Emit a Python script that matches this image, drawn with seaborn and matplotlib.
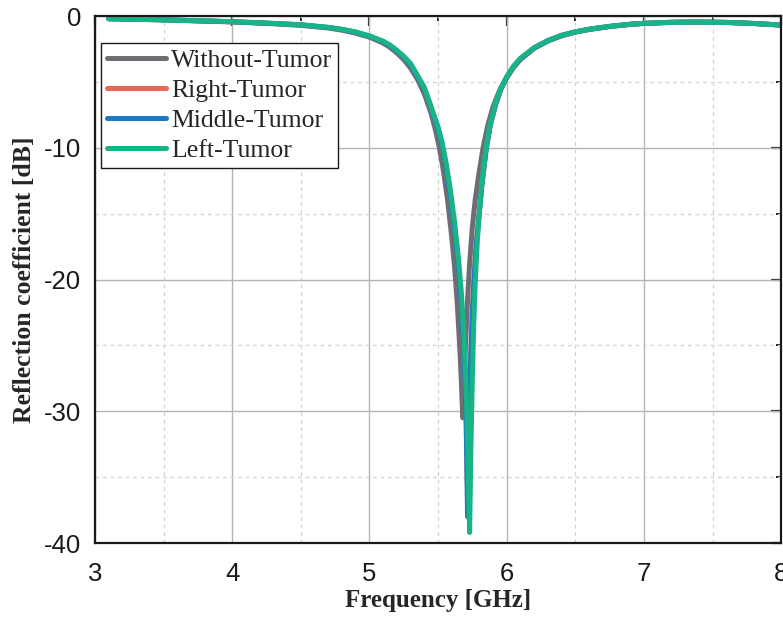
import numpy as np
import pandas as pd
import matplotlib
matplotlib.use("Agg")
import matplotlib.pyplot as plt
import seaborn as sns
from matplotlib.ticker import MultipleLocator, FuncFormatter

# ---- data ----
f_without = [3.1, 3.5, 4.0, 4.3, 4.5, 4.7, 4.8, 4.9, 5.0, 5.05, 5.1, 5.15, 5.2, 5.25, 5.3, 5.35,
             5.4, 5.45, 5.48, 5.51, 5.54, 5.57, 5.6, 5.62, 5.64, 5.66, 5.67, 5.68, 5.69, 5.70,
             5.715, 5.73, 5.75, 5.77, 5.80, 5.83, 5.86, 5.9, 5.95, 6.0, 6.05, 6.1, 6.2, 6.3, 6.4,
             6.5, 6.6, 6.75, 6.9, 7.0, 7.2, 7.4, 7.6, 7.8, 8.0]
s_without = [-0.2, -0.29, -0.44, -0.58, -0.7, -0.9, -1.07, -1.3, -1.6, -1.82, -2.05, -2.38, -2.8,
             -3.3, -3.95, -4.8, -5.9, -7.4, -8.6, -10.0, -11.8, -14.0, -16.8, -19.0, -21.8, -25.5,
             -27.8, -30.5, -28.0, -25.0, -21.5, -18.8, -16.0, -14.0, -11.8, -9.9, -8.4, -6.9,
             -5.6, -4.7, -3.9, -3.3, -2.45, -1.9, -1.5, -1.22, -1.02, -0.8, -0.63, -0.56, -0.48,
             -0.45, -0.48, -0.56, -0.68]

f_right = [3.1, 3.5, 4.0, 4.3, 4.5, 4.7, 4.8, 4.9, 5.0, 5.05, 5.1, 5.15, 5.2, 5.25, 5.3, 5.35,
           5.4, 5.45, 5.5, 5.53, 5.56, 5.59, 5.62, 5.65, 5.67, 5.685, 5.695, 5.705, 5.715, 5.725,
           5.735, 5.75, 5.765, 5.78, 5.8, 5.82, 5.85, 5.88, 5.92, 5.96, 6.0, 6.05, 6.1, 6.2, 6.3,
           6.4, 6.5, 6.6, 6.75, 6.9, 7.0, 7.2, 7.4, 7.6, 7.8, 8.0]
s_right = [-0.2, -0.28, -0.43, -0.56, -0.67, -0.87, -1.02, -1.23, -1.53, -1.74, -1.95, -2.26,
           -2.66, -3.12, -3.7, -4.6, -5.5, -7.0, -8.6, -9.9, -11.6, -13.7, -16.2, -19.3, -22.0,
           -25.0, -27.5, -30.5, -36.0, -31.0, -26.5, -22.3, -19.4, -17.1, -14.9, -12.7, -10.1,
           -8.3, -6.7, -5.5, -4.65, -3.85, -3.25, -2.42, -1.87, -1.47, -1.2, -1.0, -0.78, -0.62,
           -0.55, -0.47, -0.45, -0.48, -0.56, -0.68]

f_middle = [3.1, 3.5, 4.0, 4.3, 4.5, 4.7, 4.8, 4.9, 5.0, 5.05, 5.1, 5.15, 5.2, 5.25, 5.3, 5.35,
            5.4, 5.45, 5.5, 5.53, 5.56, 5.59, 5.62, 5.65, 5.67, 5.685, 5.695, 5.705, 5.715, 5.725,
            5.735, 5.75, 5.765, 5.78, 5.8, 5.82, 5.85, 5.88, 5.92, 5.96, 6.0, 6.05, 6.1, 6.2, 6.3,
            6.4, 6.5, 6.6, 6.75, 6.9, 7.0, 7.2, 7.4, 7.6, 7.8, 8.0]
s_middle = [-0.2, -0.28, -0.43, -0.56, -0.67, -0.87, -1.02, -1.23, -1.53, -1.74, -1.95, -2.26,
            -2.66, -3.12, -3.7, -4.6, -5.5, -7.0, -8.6, -9.9, -11.6, -13.7, -16.2, -19.3, -22.0,
            -25.0, -27.5, -31.0, -38.0, -32.0, -27.0, -22.5, -19.5, -17.2, -15.0, -12.8, -10.2,
            -8.3, -6.7, -5.5, -4.65, -3.85, -3.25, -2.42, -1.87, -1.47, -1.2, -1.0, -0.78, -0.62,
            -0.55, -0.47, -0.45, -0.48, -0.56, -0.68]

f_left = [3.1, 3.5, 4.0, 4.3, 4.5, 4.7, 4.8, 4.9, 5.0, 5.05, 5.1, 5.15, 5.2, 5.25, 5.3, 5.35,
          5.4, 5.45, 5.5, 5.53, 5.56, 5.59, 5.62, 5.65, 5.67, 5.69, 5.70, 5.71, 5.72, 5.73, 5.74,
          5.75, 5.76, 5.77, 5.785, 5.8, 5.82, 5.85, 5.88, 5.92, 5.96, 6.0, 6.05, 6.1, 6.2, 6.3,
          6.4, 6.5, 6.6, 6.75, 6.9, 7.0, 7.2, 7.4, 7.6, 7.8, 8.0]
s_left = [-0.2, -0.28, -0.42, -0.55, -0.65, -0.85, -1.0, -1.2, -1.5, -1.7, -1.9, -2.2, -2.6,
          -3.05, -3.6, -4.5, -5.4, -6.9, -8.4, -9.6, -11.2, -13.2, -15.6, -18.5, -21.0, -24.5,
          -27.0, -30.0, -34.5, -39.2, -32.5, -27.5, -23.5, -20.5, -17.3, -15.0, -12.6, -10.0,
          -8.2, -6.6, -5.4, -4.6, -3.8, -3.2, -2.4, -1.85, -1.45, -1.2, -1.0, -0.78, -0.62,
          -0.55, -0.47, -0.45, -0.48, -0.56, -0.68]

series_names = ["Without-Tumor", "Right-Tumor", "Middle-Tumor", "Left-Tumor"]
series_colors = ["#6e6e72", "#e8665c", "#1a7bc2", "#18b488"]

frames = []
for name, fx, sy in zip(series_names,
                        [f_without, f_right, f_middle, f_left],
                        [s_without, s_right, s_middle, s_left]):
    frames.append(pd.DataFrame({"Frequency": fx, "S11": sy, "Case": name}))
df = pd.concat(frames, ignore_index=True)

# ---- plot ----
sns.set_style("white")
plt.rcParams["font.family"] = ["Liberation Sans", "DejaVu Sans"]
serif = ["Liberation Serif", "DejaVu Serif"]

fig = plt.figure(figsize=(7.83, 6.17), dpi=100)
ax = fig.add_axes([0.1213, 0.1199, 0.8763, 0.854])

sns.lineplot(data=df, x="Frequency", y="S11", hue="Case", hue_order=series_names,
             palette=series_colors, linewidth=3.6, sort=False, estimator=None, ax=ax,
             solid_capstyle="round", solid_joinstyle="round")

ax.set_xlim(3, 8)
ax.set_ylim(-40, 0)
ax.xaxis.set_major_locator(MultipleLocator(1))
ax.xaxis.set_minor_locator(MultipleLocator(0.5))
ax.yaxis.set_major_locator(MultipleLocator(10))
ax.yaxis.set_minor_locator(MultipleLocator(5))

ax.grid(which="major", color="#b4b4b4", linewidth=1.0, linestyle="-")
ax.grid(which="minor", color="#d2d2d2", linewidth=0.9, linestyle=(0, (3, 3)))
ax.set_axisbelow(True)

for sp in ax.spines.values():
    sp.set_linewidth(1.6)
    sp.set_color("#1a1a1a")

ax.tick_params(axis="both", which="major", direction="out", length=7, width=1.6,
               labelsize=18.5, colors="#1a1a1a", pad=3)
ax.tick_params(axis="x", which="major", pad=7)
ax.tick_params(axis="both", which="minor", direction="out", length=3.5, width=1.4,
               colors="#1a1a1a")
ax.yaxis.set_major_formatter(FuncFormatter(lambda v, p: f"{int(v)}"))

# mirrored ticks on top/right pointing inward
sec_x = ax.secondary_xaxis("top")
sec_x.xaxis.set_major_locator(MultipleLocator(1))
sec_x.xaxis.set_minor_locator(MultipleLocator(0.5))
sec_x.tick_params(which="major", direction="in", length=7, width=1.6, labeltop=False)
sec_x.tick_params(which="minor", direction="in", length=3.5, width=1.4)
sec_x.spines["top"].set_visible(False)
sec_y = ax.secondary_yaxis("right")
sec_y.yaxis.set_major_locator(MultipleLocator(10))
sec_y.yaxis.set_minor_locator(MultipleLocator(5))
sec_y.tick_params(which="major", direction="in", length=7, width=1.6, labelright=False)
sec_y.tick_params(which="minor", direction="in", length=3.5, width=1.4)
sec_y.spines["right"].set_visible(False)

ax.set_xlabel("Frequency [GHz]", fontsize=18, fontweight="bold", family=serif, labelpad=2)
ax.set_ylabel("Reflection coefficient [dB]", fontsize=18.5, fontweight="bold", family=serif,
              labelpad=6)

leg = ax.legend(loc="upper left", bbox_to_anchor=(0.009, 0.949), frameon=True,
                fancybox=False, edgecolor="#1a1a1a", framealpha=1,
                prop={"family": serif, "size": 18.5},
                handlelength=2.3, handletextpad=0.2, labelspacing=0.28, borderpad=0.22,
                borderaxespad=0)
leg.get_frame().set_linewidth(1.0)
for line in leg.get_lines():
    line.set_linewidth(3.6)

fig.savefig("out.png", dpi=100)
